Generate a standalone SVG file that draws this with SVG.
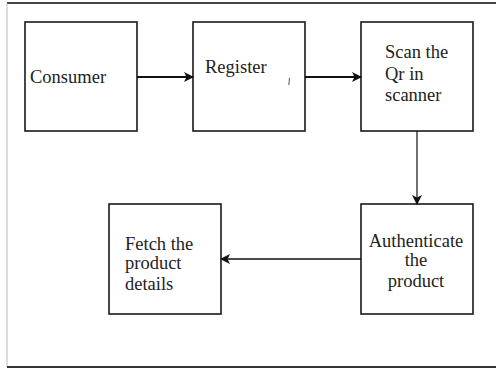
<svg xmlns="http://www.w3.org/2000/svg" width="496" height="369" viewBox="0 0 496 369">
<style>
.box{fill:#fff;stroke:#1a1a1a;stroke-width:1.6}
.t{font-family:"Liberation Serif",serif;font-size:18.5px;fill:#222}
.c{stroke:#111;fill:none}
</style>
<defs>
<marker id="ah" viewBox="0 0 10 10" refX="9" refY="5" markerWidth="10" markerHeight="10" markerUnits="userSpaceOnUse" orient="auto">
<path d="M0,0 L10,5 L0,10 L2.5,5 Z" fill="#111"/>
</marker>
</defs>
<rect width="496" height="369" fill="#fff"/>
<g id="frame">
<line x1="7" y1="3" x2="496" y2="3" stroke="#444" stroke-width="2"/>
<line x1="7" y1="3" x2="7" y2="367" stroke="#bbb" stroke-width="1"/>
<line x1="7" y1="367" x2="496" y2="367" stroke="#333" stroke-width="2"/>
</g>
<g id="consumer">
<rect class="box" x="25" y="22" width="112" height="109"/>
<text class="t" x="30" y="83">Consumer</text>
</g>
<g id="register">
<rect class="box" x="193" y="22" width="112" height="109"/>
<text class="t" x="205" y="73">Register</text>
<line x1="289.5" y1="78" x2="288.8" y2="85" stroke="#555" stroke-width="1"/>
</g>
<g id="scan">
<rect class="box" x="361" y="22" width="112" height="109"/>
<text class="t" x="385" y="58">Scan the</text>
<text class="t" x="385" y="79.5">Qr in</text>
<text class="t" x="385" y="101">scanner</text>
</g>
<g id="authenticate">
<rect class="box" x="361" y="204" width="112" height="110"/>
<text class="t" x="416" y="247" text-anchor="middle">Authenticate</text>
<text class="t" x="416" y="266" text-anchor="middle">the</text>
<text class="t" x="416" y="287" text-anchor="middle">product</text>
</g>
<g id="fetch">
<rect class="box" x="109" y="204" width="112" height="110"/>
<text class="t" x="125" y="250">Fetch the</text>
<text class="t" x="125" y="269">product</text>
<text class="t" x="125" y="290">details</text>
</g>
<g id="connectors">
<line class="c" x1="137" y1="77" x2="193" y2="77" stroke-width="2" marker-end="url(#ah)"/>
<line class="c" x1="305" y1="77" x2="361" y2="77" stroke-width="2" marker-end="url(#ah)"/>
<line class="c" x1="417" y1="131" x2="417" y2="204" stroke-width="1.2" marker-end="url(#ah)"/>
<line class="c" x1="361" y1="259" x2="221" y2="259" stroke-width="1.6" marker-end="url(#ah)"/>
</g>
</svg>
